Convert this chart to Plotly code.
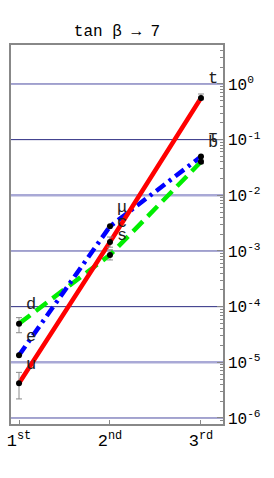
import math
import plotly.graph_objects as go

# ---------------- data ----------------
generations = [1, 2, 3]
gen_labels = ["1<sup>st</sup>", "2<sup>nd</sup>", "3<sup>rd</sup>"]

up_names = ["u", "c", "t"]
up_vals = [4.2e-6, 1.45e-3, 0.56]
up_hi = [6.6e-6, 1.78e-3, 0.66]
up_lo = [2.2e-6, 1.17e-3, 0.52]

down_names = ["d", "s", "b"]
down_vals = [4.95e-5, 8.5e-4, 0.040]
down_hi = [6.35e-5, 1.05e-3, 0.043]
down_lo = [3.4e-5, 6.9e-4, 0.037]

lep_names = ["e", "μ", "τ"]
lep_vals = [1.34e-5, 2.77e-3, 0.0496]
lep_hi = [1.34e-5, 2.77e-3, 0.0496]
lep_lo = [1.34e-5, 2.77e-3, 0.0496]

decades = [-6, -5, -4, -3, -2, -1, 0]
decade_colors = ["#4a4aa0", "#a9a9d6", "#2a2a80", "#4a4aa0", "#a9a9d6", "#2a2a80", "#4a4aa0"]
decade_widths = [1, 2.5, 1, 1, 2.5, 1, 1]

FONT = "Liberation Mono"

fig = go.Figure()

# gridlines at each decade
xr = [0.912, 3.242]
for d, c, w in zip(decades, decade_colors, decade_widths):
    fig.add_trace(go.Scatter(x=xr, y=[10 ** d, 10 ** d], mode="lines",
                             line=dict(color=c, width=w), hoverinfo="skip",
                             showlegend=False))

# series lines
fig.add_trace(go.Scatter(x=generations, y=down_vals, mode="lines",
                         line=dict(color="#00ee00", width=4.5, dash="14px,7px"),
                         showlegend=False))
fig.add_trace(go.Scatter(x=generations, y=lep_vals, mode="lines",
                         line=dict(color="#0000ff", width=4.5, dash="11px,5px,3px,5px"),
                         showlegend=False))
fig.add_trace(go.Scatter(x=generations, y=up_vals, mode="lines",
                         line=dict(color="#ff0000", width=4.5),
                         showlegend=False))

# points with error bars
for vals, hi, lo in [(up_vals, up_hi, up_lo), (down_vals, down_hi, down_lo),
                     (lep_vals, lep_hi, lep_lo)]:
    fig.add_trace(go.Scatter(
        x=generations, y=vals, mode="markers",
        marker=dict(color="black", size=6),
        error_y=dict(type="data", symmetric=False,
                     array=[h - v for h, v in zip(hi, vals)],
                     arrayminus=[v - l for v, l in zip(vals, lo)],
                     color="#8a8a8a", thickness=1, width=3),
        showlegend=False))

# labels next to points
annotations = []
for names, vals in [(up_names, up_vals), (down_names, down_vals), (lep_names, lep_vals)]:
    for g, n, v in zip(generations, names, vals):
        annotations.append(dict(x=g, y=math.log10(v), text=n, showarrow=False,
                                xshift=12, yshift=19,
                                font=dict(family=FONT, size=17, color="#222")))

minor_vals = [k * 10 ** d for d in range(-7, 1) for k in range(2, 10)]

fig.update_layout(
    width=274, height=478,
    margin=dict(l=11, r=51, t=45, b=54),
    paper_bgcolor="white", plot_bgcolor="white",
    title=dict(text="tan β → 7", x=117 / 274, xanchor="center",
               y=1 - 30 / 478, yanchor="middle", yref="container",
               font=dict(family=FONT, size=16, color="black")),
    annotations=annotations,
    xaxis=dict(range=xr, tickvals=generations, ticktext=gen_labels,
               ticks="inside", ticklen=4, tickcolor="#888",
               showline=True, linecolor="#888", linewidth=1.5, mirror=True,
               showgrid=False, zeroline=False, automargin=False,
               tickfont=dict(family=FONT, size=17, color="black")),
    yaxis=dict(type="log", range=[-6.108, 0.70], side="right",
               tickvals=[10 ** d for d in decades],
               ticktext=["10<sup>%d</sup>" % d for d in decades],
               ticks="inside", ticklen=6, tickcolor="#888",
               showline=True, linecolor="#888", linewidth=1.5, mirror=True,
               showgrid=False, zeroline=False, automargin=False,
               minor=dict(tickvals=minor_vals, ticks="inside", ticklen=3,
                          tickcolor="#888", showgrid=False),
               tickfont=dict(family=FONT, size=16, color="black")),
)

fig.write_html("out.html", config={"displayModeBar": False},
               post_script="document.body.style.margin='0px';document.body.style.padding='0px';")
